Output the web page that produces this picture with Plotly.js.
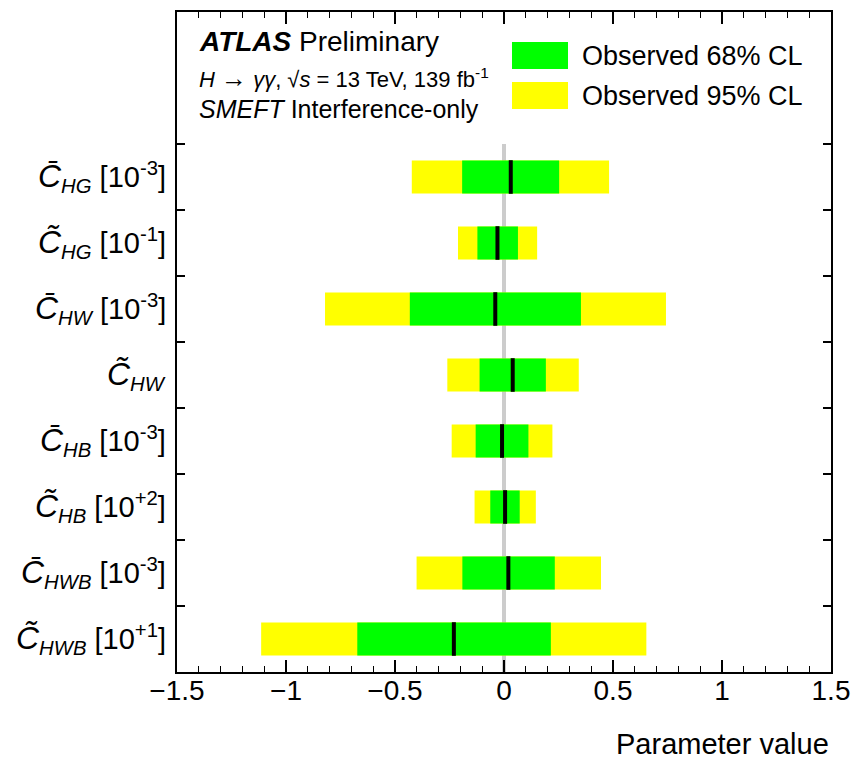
<!DOCTYPE html>
<html>
<head>
<meta charset="utf-8">
<script src="https://cdn.plot.ly/plotly-3.0.1.min.js"></script>
<style>
html,body{margin:0;padding:0;background:#fff;}
#chart{width:858px;height:759px;}
</style>
</head>
<body>
<div id="chart"></div>
<script>
// ---- data ----
var categories = [
  "<span style='font-size:32px'><i>C\u0304</i></span><sub><i>HG</i></sub> [10<sup>-3</sup>]",
  "<span style='font-size:32px'><i>C\u0303</i></span><sub><i>HG</i></sub> [10<sup>-1</sup>]",
  "<span style='font-size:32px'><i>C\u0304</i></span><sub><i>HW</i></sub> [10<sup>-3</sup>]",
  "<span style='font-size:32px'><i>C\u0303</i></span><sub><i>HW</i></sub>",
  "<span style='font-size:32px'><i>C\u0304</i></span><sub><i>HB</i></sub> [10<sup>-3</sup>]",
  "<span style='font-size:32px'><i>C\u0303</i></span><sub><i>HB</i></sub> [10<sup>+2</sup>]",
  "<span style='font-size:32px'><i>C\u0304</i></span><sub><i>HWB</i></sub> [10<sup>-3</sup>]",
  "<span style='font-size:32px'><i>C\u0303</i></span><sub><i>HWB</i></sub> [10<sup>+1</sup>]"
];
var lo95 = [-0.423, -0.211, -0.821, -0.260, -0.240, -0.135, -0.401, -1.114];
var hi95 = [ 0.482,  0.152,  0.743,  0.343,  0.222,  0.146,  0.445,  0.653];
var lo68 = [-0.192, -0.122, -0.432, -0.112, -0.130, -0.063, -0.191, -0.673];
var hi68 = [ 0.253,  0.064,  0.353,  0.192,  0.112,  0.072,  0.233,  0.215];
var best = [ 0.031, -0.030, -0.040,  0.040, -0.009,  0.005,  0.020, -0.230];
var xTicks = [-1.5, -1, -0.5, 0, 0.5, 1, 1.5];
var legendLabels = ["Observed 68% CL", "Observed 95% CL"];

// ---- derived ----
var yIdx = categories.map(function(c, i){ return i; });
var boundaries = [];
for (var i = -1; i < categories.length; i++) boundaries.push(i + 0.5);
var FONT = "Liberation Sans, Arial, Helvetica, sans-serif";
var GREEN = "#00ff00", YELLOW = "#ffff00";

var traces = [
  {
    type: "bar", orientation: "h", y: yIdx,
    x: hi95.map(function(h, i){ return h - lo95[i]; }), base: lo95,
    width: 0.5, marker: {color: YELLOW, line: {width: 0}},
    name: legendLabels[1], hoverinfo: "skip", showlegend: false
  },
  {
    type: "bar", orientation: "h", y: yIdx,
    x: hi68.map(function(h, i){ return h - lo68[i]; }), base: lo68,
    width: 0.5, marker: {color: GREEN, line: {width: 0}},
    name: legendLabels[0], hoverinfo: "skip", showlegend: false
  },
  {
    type: "scatter", mode: "markers", x: best, y: yIdx,
    marker: {symbol: "line-ns", size: 24, color: "#000", line: {color: "#000", width: 4}},
    hoverinfo: "skip", showlegend: false
  }
];

// plot-area geometry for paper conversions
var L = 177, R = 27, T = 12, B = 87, W = 858, H = 759;
var pw = W - L - R, ph = H - T - B;
function px(x){ return (x - L) / pw; }
function py(y){ return (H - B - y) / ph; }

var annotations = [
  {text: "<b><i>ATLAS</i></b> Preliminary", x: px(197), y: py(42), xanchor: "left", yanchor: "middle",
   font: {size: 28, color: "#000", family: FONT}},
  {text: "<i>H</i> <span style='font-size:26px'>\u2192</span> <i>\u03b3\u03b3</i>, \u221a<i>s</i> = 13 TeV, 139 fb<sup>-1</sup>", x: px(197), y: py(78), xanchor: "left", yanchor: "middle",
   font: {size: 22, color: "#000", family: FONT}},
  {text: "<i>SMEFT</i> Interference-only", x: px(197), y: py(109), xanchor: "left", yanchor: "middle",
   font: {size: 25, color: "#000", family: FONT}},
  {text: legendLabels[0], x: px(580), y: py(56), xanchor: "left", yanchor: "middle",
   font: {size: 27, color: "#000", family: FONT}},
  {text: legendLabels[1], x: px(580), y: py(96), xanchor: "left", yanchor: "middle",
   font: {size: 27, color: "#000", family: FONT}},
  {text: "Parameter value", x: 1, y: py(744), xanchor: "right", yanchor: "middle",
   font: {size: 29, color: "#000", family: FONT}}
];
categories.forEach(function(c, i){
  annotations.push({
    text: c, xref: "paper", yref: "y", x: 0, y: i, xanchor: "right", yanchor: "middle",
    xshift: -9, yshift: 0, showarrow: false, font: {size: 29, color: "#000", family: FONT}
  });
});
annotations.forEach(function(a){
  if (!a.xref) a.xref = "paper";
  if (!a.yref) a.yref = "paper";
  a.showarrow = false;
});

var shapes = [
  {type: "line", xref: "x", yref: "y", x0: 0, x1: 0, y0: -0.5, y1: categories.length - 0.5,
   layer: "below", line: {color: "#cccccc", width: 4}},
  {type: "rect", xref: "paper", yref: "paper", x0: px(512), x1: px(568), y0: py(69), y1: py(42),
   fillcolor: GREEN, line: {width: 0}},
  {type: "rect", xref: "paper", yref: "paper", x0: px(512), x1: px(568), y0: py(109), y1: py(82),
   fillcolor: YELLOW, line: {width: 0}}
];

var layout = {
  width: W, height: H,
  margin: {l: L, r: R, t: T, b: B, pad: 0},
  paper_bgcolor: "#fff", plot_bgcolor: "rgba(0,0,0,0)",
  barmode: "overlay", showlegend: false,
  font: {family: FONT, color: "#000"},
  xaxis: {
    range: [-1.5, 1.5], tickmode: "array", tickvals: xTicks,
    ticks: "inside", ticklen: 12, tickwidth: 1.2, tickcolor: "#000",
    minor: {dtick: 0.1, tick0: 0, ticks: "inside", ticklen: 6, tickwidth: 1.2, tickcolor: "#000", showgrid: false},
    showgrid: false, zeroline: false, showline: true, linecolor: "#000", linewidth: 2,
    mirror: "ticks", tickfont: {size: 28, family: FONT, color: "#000"},
    ticklabelstandoff: -8
  },
  yaxis: {
    range: [categories.length - 0.5, -2.5], tickmode: "array", tickvals: boundaries,
    ticks: "inside", ticklen: 8, tickwidth: 1.2, tickcolor: "#000", showticklabels: false,
    showgrid: false, zeroline: false, showline: true, linecolor: "#000", linewidth: 2,
    mirror: "ticks"
  },
  annotations: annotations,
  shapes: shapes
};

Plotly.newPlot("chart", traces, layout, {staticPlot: true, displayModeBar: false});
</script>
</body>
</html>
